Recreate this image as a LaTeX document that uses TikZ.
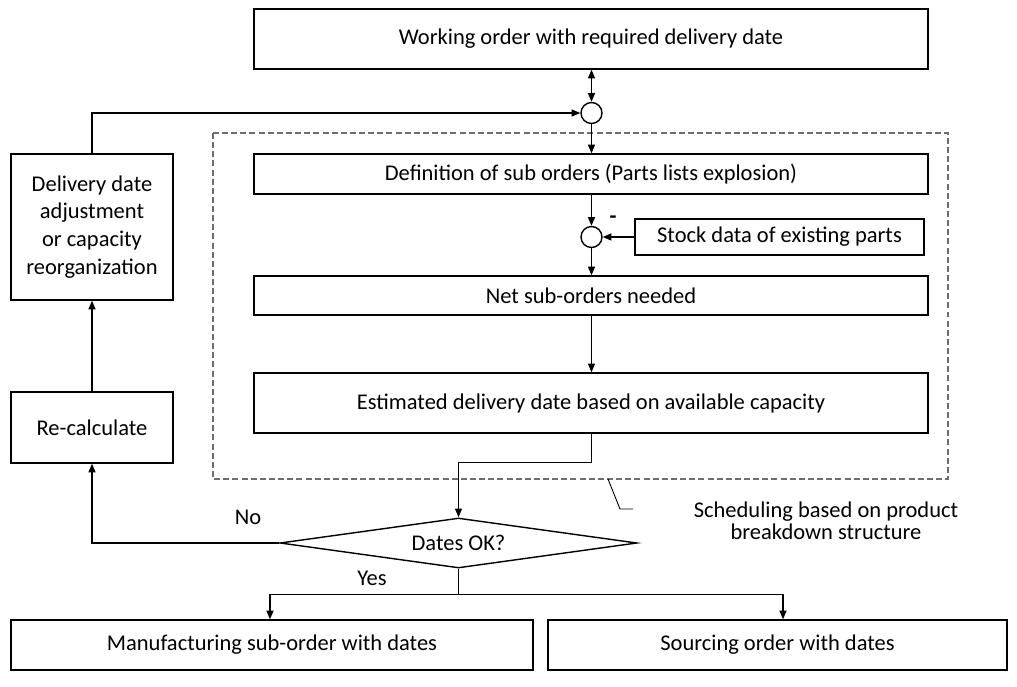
\documentclass[tikz,border=0pt]{standalone}
\usepackage{fontspec}
\setmainfont{Carlito}
\usepackage{tikz}
\usetikzlibrary{
  arrows.meta,
  positioning,
  shapes.geometric,
  calc
}
\usepackage{xcolor}
\definecolor{framegray}{RGB}{110,110,110}

\begin{document}
\begin{tikzpicture}[x=0.02cm, y=-0.02cm,
    font=\fontsize{12.8}{15.8}\selectfont,
    >={Triangle[length=5pt, width=4pt]},
    box/.style={draw, line width=0.8pt, inner sep=0pt, align=center},
    junction/.style={draw, circle, line width=0.8pt, minimum size=0.42cm, inner sep=0pt},
    decision/.style={draw, diamond, aspect=7, line width=0.8pt, inner sep=0pt,
      minimum width=7.14cm, minimum height=1cm},
    flow/.style={line width=0.8pt}]
  \useasboundingbox (0,0) rectangle (1017,686);

  % Scheduling frame
  \draw[framegray, line width=0.8pt, dash pattern=on 3.4pt off 1.8pt]
    (213,133) rectangle (948,479);

  % Order and feedback boxes
  \node[box, minimum width=13.48cm, minimum height=1.2cm] (order) at (591,39)
    {Working order with required delivery date};
  \node[junction] (join) at (591.5,113) {};
  \node[box, minimum width=3.24cm, minimum height=2.92cm] (adjust) at (92,227)
    {Delivery date\\adjustment\\or capacity\\reorganization};
  \node[box, minimum width=3.24cm, minimum height=1.42cm] (recalc) at (92,427.5)
    {Re-calculate};

  % Boxes inside the frame
  \node[box, minimum width=13.48cm, minimum height=0.8cm] (explode) at (591,174)
    {Definition of sub orders (Parts lists explosion)};
  \node[junction] (stockjoin) at (591.5,237) {};
  \node[box, minimum width=5.78cm, minimum height=0.72cm] (stock) at (779.5,237)
    {Stock data of existing parts};
  \node (minus) at (613,220) {\textbf{-}};
  \node[box, minimum width=13.48cm, minimum height=0.78cm] (net) at (591,295.5)
    {Net sub-orders needed};
  \node[box, minimum width=13.48cm, minimum height=1.2cm] (estimate) at (591,403)
    {Estimated delivery date based on available capacity};

  % Decision and results
  \node[decision] (check) at (458.5,543) {Dates OK?};
  \node (nolabel) at (248,517) {No};
  \node (yeslabel) at (372,578) {Yes};
  \node[box, minimum width=10.44cm, minimum height=1cm] (manuf) at (272,645)
    {Manufacturing sub-order with dates};
  \node[box, minimum width=9.18cm, minimum height=1cm] (sourcing) at (777.5,645)
    {Sourcing order with dates};

  % Frame caption
  \node[align=center, font=\fontsize{12.8}{12.5}\selectfont] (schednote) at (826,521)
    {Scheduling based on product\\breakdown structure};
  \coordinate (tick) at (608,479);
  \draw[line width=0.5pt] (tick) -- ++(12,30) -- ++(13,0);

  % Connectors
  \draw[flow, <->] (join.north) -- (join.north |- order.south);
  \draw[flow, ->] (adjust.north) |- (join.west);
  \draw[flow, ->] (join.south) -- (join.south |- explode.north);
  \draw[flow, ->] (stockjoin.north |- explode.south) -- (stockjoin.north);
  \draw[flow, ->] (stock.west) -- (stockjoin.east);
  \draw[flow, ->] (stockjoin.south) -- (stockjoin.south |- net.north);
  \draw[flow, ->] (stockjoin |- net.south) -- (stockjoin |- estimate.north);
  \draw[flow, ->] (stockjoin |- estimate.south) -- ++(0,29) -| (check.north);
  \draw[flow, ->] (check.west) -| (recalc.south);
  \draw[flow, ->] (recalc.north) -- (adjust.south);
  \draw[flow] (check.south) -- ++(0,26) coordinate (split);
  \draw[flow, ->] (split) -| ([xshift=-0.04cm]manuf.north);
  \draw[flow, ->] (split) -| ([xshift=0.11cm]sourcing.north);
\end{tikzpicture}
\end{document}
